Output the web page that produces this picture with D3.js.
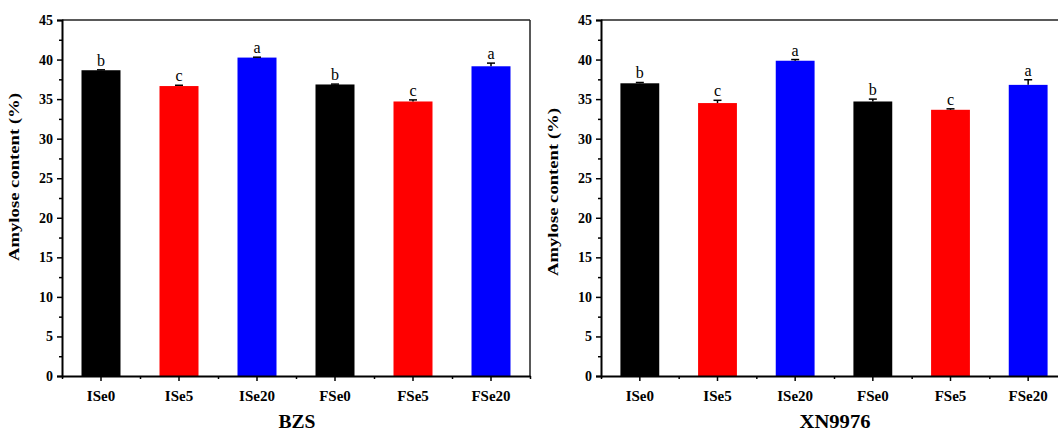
<!DOCTYPE html>
<html>
<head>
  <meta charset="utf-8">
  <title>Amylose content</title>
  <script src="https://d3js.org/d3.v7.min.js"></script>
  <style>
    body { margin: 0; background: #fff; }
    text { font-family: "Liberation Serif", "Times New Roman", serif; }
    .tick text { font-weight: bold; }
  </style>
</head>
<body>
<div id="chart"></div>
<script>
// data
var categories = ["ISe0", "ISe5", "ISe20", "FSe0", "FSe5", "FSe20"];
var colors = ["#000000", "#ff0000", "#0000ff", "#000000", "#ff0000", "#0000ff"];

var bzsValues = [38.65, 36.65, 40.25, 36.85, 34.7, 39.15];
var bzsErrors = [0.05, 0.1, 0.05, 0.05, 0.2, 0.4];
var bzsLetters = ["b", "c", "a", "b", "c", "a"];

var xnValues = [37.0, 34.5, 39.85, 34.7, 33.65, 36.8];
var xnErrors = [0.1, 0.35, 0.15, 0.3, 0.12, 0.65];
var xnLetters = ["b", "c", "a", "b", "c", "a"];

var yTicks = [0, 5, 10, 15, 20, 25, 30, 35, 40, 45];

var svg = d3.select("#chart").append("svg")
    .attr("width", 1058)
    .attr("height", 434);

function panel(left, right, values, errors, letters, title, titleY, titleLen, ylabY) {
  var top = 20, bottom = 376;
  var g = svg.append("g");

  var x = d3.scaleBand().domain(categories).range([left, right])
      .paddingInner(0.5).paddingOuter(0.25);
  var xi = d3.scaleLinear().domain([0.5, 6.5]).range([left, right]);
  var y = d3.scaleLinear().domain([0, 45]).range([bottom, top]);

  // bars
  g.selectAll(".bar").data(values).enter().append("rect")
      .attr("x", function(d, i) { return x(categories[i]); })
      .attr("y", function(d) { return y(d); })
      .attr("width", x.bandwidth())
      .attr("height", function(d) { return y(0) - y(d); })
      .attr("fill", function(d, i) { return colors[i]; });

  // error bars (upper only)
  var eb = g.selectAll(".err").data(values).enter().append("g");
  eb.append("line")
      .attr("x1", function(d, i) { return x(categories[i]) + x.bandwidth() / 2; })
      .attr("x2", function(d, i) { return x(categories[i]) + x.bandwidth() / 2; })
      .attr("y1", function(d) { return y(d); })
      .attr("y2", function(d, i) { return y(d + errors[i]); })
      .attr("stroke", "#000").attr("stroke-width", 1.5);
  eb.append("line")
      .attr("x1", function(d, i) { return x(categories[i]) + x.bandwidth() / 2 - 4; })
      .attr("x2", function(d, i) { return x(categories[i]) + x.bandwidth() / 2 + 4; })
      .attr("y1", function(d, i) { return y(d + errors[i]); })
      .attr("y2", function(d, i) { return y(d + errors[i]); })
      .attr("stroke", "#000").attr("stroke-width", 1.5);

  // letters
  g.selectAll(".letter").data(values).enter().append("text")
      .attr("x", function(d, i) { return x(categories[i]) + x.bandwidth() / 2; })
      .attr("y", function(d, i) { return y(d + errors[i]) - 4; })
      .attr("text-anchor", "middle")
      .style("font-size", "16px")
      .text(function(d, i) { return letters[i]; });

  // frame (top and right)
  g.append("line").attr("x1", left).attr("x2", right).attr("y1", top).attr("y2", top)
      .attr("stroke", "#222").attr("stroke-width", 1.5);
  g.append("line").attr("x1", right).attr("x2", right).attr("y1", top).attr("y2", bottom)
      .attr("stroke", "#222").attr("stroke-width", 1.5);

  // y axis
  var ya = g.append("g").attr("transform", "translate(" + left + ",0)")
      .call(d3.axisLeft(y).tickValues(yTicks).tickSize(5).tickPadding(4));
  g.append("g").attr("transform", "translate(" + left + ",0)")
      .call(d3.axisLeft(y).tickValues(d3.range(2.5, 45, 5)).tickSize(3).tickFormat(""))
      .select(".domain").remove();
  ya.selectAll("text").style("font-size", "14px");

  // x axis
  var xa = g.append("g").attr("transform", "translate(0," + bottom + ")")
      .call(d3.axisBottom(x).tickSize(5).tickPadding(9).tickSizeOuter(0));
  g.append("g").attr("transform", "translate(0," + bottom + ")")
      .call(d3.axisBottom(xi).tickValues(d3.range(0.5, 7, 1)).tickSize(3).tickFormat(""))
      .select(".domain").remove();
  xa.selectAll("text").style("font-size", "15px");

  g.selectAll(".domain").attr("stroke-width", 2);
  g.selectAll(".tick line").attr("stroke-width", 1.5);

  // y label
  g.append("text")
      .attr("transform", "translate(" + (left - 43) + "," + ylabY + ") rotate(-90)")
      .attr("text-anchor", "middle")
      .attr("textLength", 168).attr("lengthAdjust", "spacingAndGlyphs")
      .style("font-size", "15px").style("font-weight", "bold")
      .text("Amylose content (%)");

  // panel title
  g.append("text")
      .attr("x", (left + right) / 2 + 1).attr("y", titleY)
      .attr("text-anchor", "middle")
      .attr("textLength", titleLen).attr("lengthAdjust", "spacingAndGlyphs")
      .style("font-size", "19px").style("font-weight", "bold")
      .text(title);
}

panel(62, 530, bzsValues, bzsErrors, bzsLetters, "BZS", 428, 37, 177);
panel(601, 1067, xnValues, xnErrors, xnLetters, "XN9976", 428, 71, 192);
</script>
</body>
</html>
